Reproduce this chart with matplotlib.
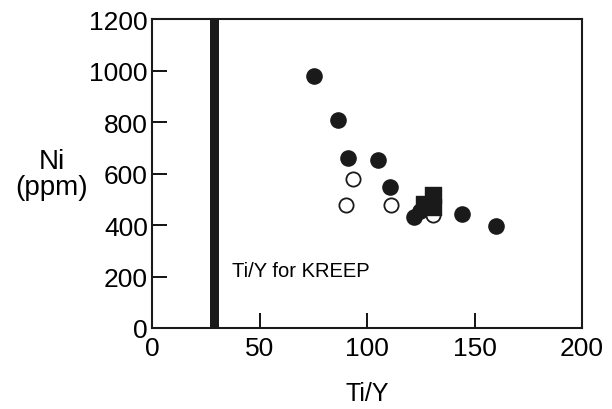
import matplotlib
matplotlib.use("Agg")
import matplotlib.pyplot as plt

plt.rcParams["font.family"] = ["Liberation Sans", "DejaVu Sans"]

# filled circles
filled_x = [75.5, 86.5, 91, 105, 110.7, 122, 124.7, 144, 160]
filled_y = [980, 808, 660, 652, 547, 432, 455, 443, 396]
# open circles
open_x = [93.5, 90, 111, 130.5]
open_y = [578, 478, 478, 437]
# filled squares
sq_x = [130.7, 126.5, 130.7]
sq_y = [518, 481, 470]

kreep_lo, kreep_hi = 27, 31

fig = plt.figure(figsize=(6.12, 4.10), dpi=100)
ax = fig.add_axes([0.2484, 0.1976, 0.7026, 0.7534])

ax.axvspan(kreep_lo, kreep_hi, color="#1a1a1a", lw=0)

ax.scatter(open_x, open_y, s=105, facecolors="white", edgecolors="#1a1a1a", linewidths=1.3, zorder=3)
ax.scatter(sq_x, sq_y, s=120, marker="s", color="#1a1a1a", zorder=4)
ax.scatter(filled_x, filled_y, s=120, color="#1a1a1a", zorder=5)

ax.text(37, 222, "Ti/Y for KREEP", fontsize=14.5, ha="left", va="center")

ax.set_xlim(0, 200)
ax.set_ylim(0, 1200)
ax.set_xticks([0, 50, 100, 150, 200])
ax.set_yticks([0, 200, 400, 600, 800, 1000, 1200])
ax.tick_params(direction="in", length=11, width=1.3, labelsize=19)
ax.tick_params(axis="x", pad=6)
ax.tick_params(axis="y", pad=3)
for s in ax.spines.values():
    s.set_linewidth(1.5)
    s.set_color("#1a1a1a")

ax.set_xlabel("Ti/Y", fontsize=18, labelpad=15)
fig.text(0.085, 0.573, "Ni\n(ppm)", fontsize=20, ha="center", va="center", linespacing=1.0)

fig.savefig("out.png", dpi=100)
